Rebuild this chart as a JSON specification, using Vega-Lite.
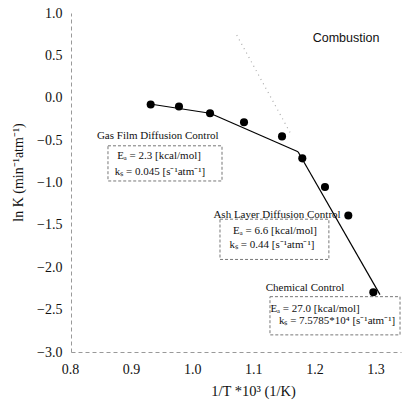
{
  "$schema": "https://vega.github.io/schema/vega-lite/v6.json",
  "width": 330,
  "height": 339,
  "autosize": {"type": "none"},
  "padding": {"left": 71, "top": 13, "right": 4, "bottom": 51},
  "background": "white",
  "config": {
    "view": {"stroke": null},
    "font": "Liberation Serif",
    "axis": {
      "labelFont": "Liberation Serif",
      "labelFontSize": 14,
      "labelColor": "#111",
      "labelFlush": false,
      "labelOverlap": false,
      "titleFont": "Liberation Serif",
      "titleFontWeight": "normal",
      "titleColor": "#111",
      "ticks": false,
      "grid": false,
      "domainColor": "#999",
      "domainDash": [4, 3],
      "domainWidth": 1
    },
    "axisX": {
      "labelOffset": -1,
      "labelPadding": 10,
      "titleFontSize": 14.5,
      "titleX": 182,
      "titleY": 39,
      "titleBaseline": "middle"
    },
    "axisY": {
      "labelPadding": 9,
      "titleFontSize": 14,
      "titleX": -53,
      "titleY": 159,
      "titleAngle": -90,
      "titleAlign": "center",
      "titleBaseline": "middle"
    }
  },
  "datasets": {
    "points": [
      {"x": 0.9304, "y": -0.080},
      {"x": 0.9767, "y": -0.104},
      {"x": 1.0275, "y": -0.183},
      {"x": 1.0831, "y": -0.290},
      {"x": 1.1453, "y": -0.456},
      {"x": 1.1785, "y": -0.715},
      {"x": 1.2156, "y": -1.053},
      {"x": 1.2538, "y": -1.389},
      {"x": 1.2947, "y": -2.296}
    ],
    "fits": [
      {"seg": "gas", "x": 0.9293, "y": -0.074},
      {"seg": "gas", "x": 1.0275, "y": -0.183},
      {"seg": "ash", "x": 1.0275, "y": -0.183},
      {"seg": "ash", "x": 1.1715, "y": -0.638},
      {"seg": "chem", "x": 1.1715, "y": -0.638},
      {"seg": "chem", "x": 1.3056, "y": -2.323}
    ],
    "guide": [
      {"x": 1.0712, "y": 0.739},
      {"x": 1.1584, "y": -0.409}
    ],
    "boxes": [
      {"x": 0.8605, "x2": 1.0471, "y": -0.567, "y2": -0.982},
      {"x": 1.0438, "x2": 1.222, "y": -1.433, "y2": -1.908},
      {"x": 1.1256, "x2": 1.3384, "y": -2.347, "y2": -2.798}
    ],
    "notes": [
      {"x": 0.942, "y": -0.448, "label": "Gas Film Diffusion Control"},
      {"x": 0.944, "y": -0.685, "label": "Eₐ = 2.3 [kcal/mol]"},
      {"x": 0.9456, "y": -0.875, "label": "kₛ = 0.045 [s⁻¹atm⁻¹]"},
      {"x": 1.1371, "y": -1.386, "label": "Ash Layer Diffusion Control"},
      {"x": 1.1338, "y": -1.576, "label": "Eₐ = 6.6 [kcal/mol]"},
      {"x": 1.1289, "y": -1.742, "label": "kₛ = 0.44 [s⁻¹atm⁻¹]"},
      {"x": 1.1829, "y": -2.240, "label": "Chemical Control"},
      {"x": 1.1993, "y": -2.490, "label": "Eₐ = 27.0 [kcal/mol]"},
      {"x": 1.2353, "y": -2.632, "label": "kₛ = 7.5785*10⁴ [s⁻¹atm⁻¹]"}
    ],
    "title": [
      {"x": 1.25, "y": 0.703, "label": "Combustion"}
    ]
  },
  "encoding": {
    "x": {
      "field": "x", "type": "quantitative",
      "scale": {"domain": [0.8, 1.34], "nice": false, "zero": false},
      "axis": {
        "values": [0.8, 0.9, 1.0, 1.1, 1.2, 1.3],
        "format": ".1f",
        "title": "1/T *10³  (1/K)"
      }
    },
    "y": {
      "field": "y", "type": "quantitative",
      "scale": {"domain": [-3, 1], "nice": false, "zero": false},
      "axis": {
        "values": [1, 0.5, 0, -0.5, -1, -1.5, -2, -2.5, -3],
        "format": ".1f",
        "title": "ln K  (min⁻¹atm⁻¹)"
      }
    }
  },
  "layer": [
    {
      "data": {"name": "boxes"},
      "mark": {"type": "rect", "fill": null, "fillOpacity": 0, "stroke": "#777", "strokeDash": [3, 2], "strokeWidth": 1},
      "encoding": {"x2": {"field": "x2"}, "y2": {"field": "y2"}}
    },
    {
      "data": {"name": "guide"},
      "mark": {"type": "line", "color": "#aaa", "strokeDash": [1, 4], "strokeWidth": 1.2},
      "encoding": {}
    },
    {
      "data": {"name": "fits"},
      "mark": {"type": "line", "color": "#000", "strokeWidth": 1.2},
      "encoding": {"detail": {"field": "seg"}, "order": {"field": "x", "type": "quantitative"}}
    },
    {
      "data": {"name": "points"},
      "mark": {"type": "circle", "color": "#000", "opacity": 1, "size": 65},
      "encoding": {}
    },
    {
      "data": {"name": "notes"},
      "mark": {"type": "text", "font": "Liberation Serif", "fontSize": 11, "color": "#111", "align": "center", "baseline": "middle"},
      "encoding": {"text": {"field": "label"}}
    },
    {
      "data": {"name": "title"},
      "mark": {"type": "text", "font": "Liberation Sans", "fontSize": 12.5, "color": "#111", "align": "center", "baseline": "middle"},
      "encoding": {"text": {"field": "label"}}
    },
    {
      "data": {"values": [{}]},
      "mark": {"type": "rule", "color": "#999", "strokeDash": [4, 3], "strokeWidth": 1},
      "encoding": {"x": {"datum": 0.8}, "x2": {"datum": 1.34}, "y": {"datum": 1.0}}
    }
  ]
}
